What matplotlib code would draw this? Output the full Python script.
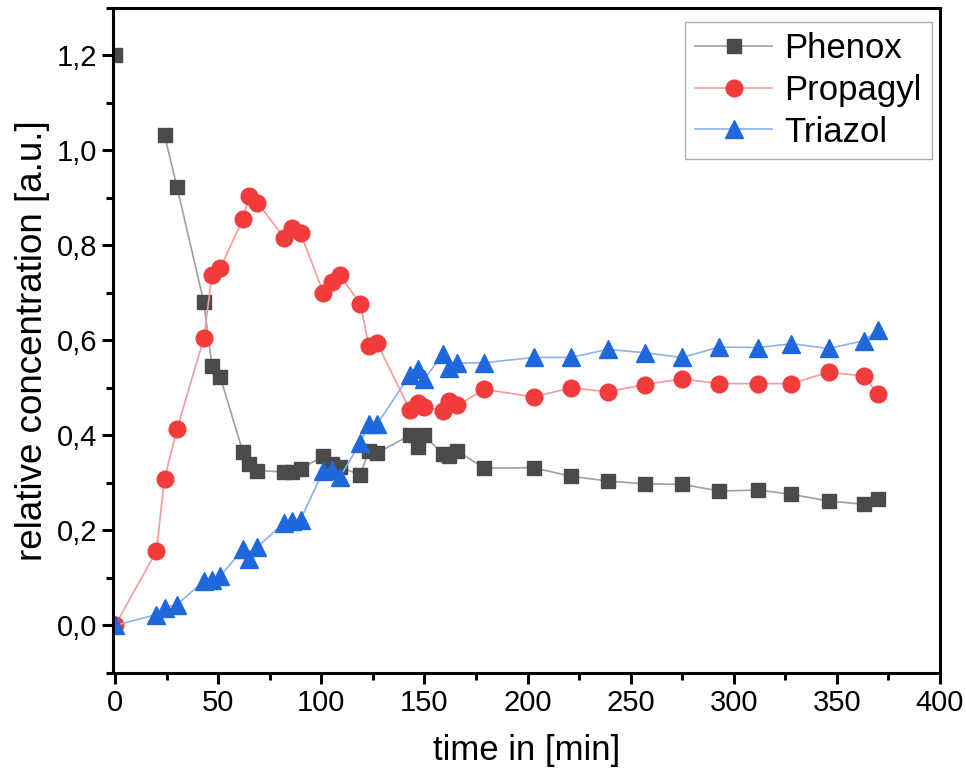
import numpy as np
import matplotlib
matplotlib.use('Agg')
import matplotlib.pyplot as plt
from matplotlib.ticker import MultipleLocator, FuncFormatter

nan = np.nan

time = [0, 20, 24, 30, 43, 47, 51, 62, 65, 69, 82, 86, 90, 101, 105, 109,
        119, 123, 127, 143, 147, 150, 159, 162, 166, 179, 203, 221, 239,
        257, 275, 293, 312, 328, 346, 363, 370]

phenox = [1.2, nan, 1.032, 0.923, 0.681, 0.546, 0.523, 0.365, 0.340, 0.326,
          0.323, 0.324, 0.330, 0.356, 0.340, 0.333, 0.317, 0.368, 0.363,
          0.400, 0.375, 0.400, 0.360, 0.357, 0.367, 0.331, 0.332, 0.314,
          0.304, 0.298, 0.297, 0.283, 0.285, 0.276, 0.262, 0.255, 0.267]

propagyl = [0.0, 0.156, 0.309, 0.413, 0.604, 0.737, 0.752, 0.855, 0.903,
            0.890, 0.816, 0.837, 0.825, 0.700, 0.723, 0.737, 0.676, 0.588,
            0.595, 0.453, 0.469, 0.460, 0.451, 0.472, 0.463, 0.497, 0.481,
            0.500, 0.492, 0.507, 0.519, 0.509, 0.509, 0.509, 0.533, 0.525,
            0.488]

triazol = [0.0, 0.023, 0.037, 0.044, 0.093, 0.095, 0.104, 0.160, 0.140,
           0.165, 0.216, 0.220, 0.223, 0.326, 0.328, 0.312, 0.385, 0.423,
           0.423, 0.528, 0.539, 0.519, 0.571, 0.542, 0.552, 0.553, 0.564,
           0.564, 0.581, 0.574, 0.564, 0.586, 0.585, 0.593, 0.583, 0.599,
           0.622]

plt.rcParams['font.family'] = ['Liberation Sans', 'DejaVu Sans']

fig = plt.figure(figsize=(9.66, 7.78), dpi=100)
ax = fig.add_axes([0.117, 0.135, 0.856, 0.855])

ax.plot(time, phenox, color='#a0a0a0', lw=1.2, marker='s', ms=10,
        mfc='#4a4a4a', mec='#4a4a4a', label='Phenox')
ax.plot(time, propagyl, color='#f59a9a', lw=1.2, marker='o', ms=12,
        mfc='#f23b3b', mec='#f23b3b', label='Propagyl')
ax.plot(time, triazol, color='#8ab2ee', lw=1.2, marker='^', ms=13,
        mfc='#1f68dc', mec='#1f68dc', label='Triazol')

ax.set_xlim(-1, 400)
ax.set_ylim(-0.1, 1.3)
ax.xaxis.set_major_locator(MultipleLocator(50))
ax.xaxis.set_minor_locator(MultipleLocator(25))
ax.yaxis.set_major_locator(MultipleLocator(0.2))
ax.yaxis.set_minor_locator(MultipleLocator(0.1))
ax.yaxis.set_major_formatter(FuncFormatter(lambda v, p: f'{v:.1f}'.replace('.', ',')))

for s in ax.spines.values():
    s.set_linewidth(2.2)
ax.tick_params(which='major', direction='out', length=8, width=2.2, labelsize=21)
ax.tick_params(which='minor', direction='out', length=5, width=2.2)

ax.set_xlabel('time in [min]', fontsize=25, labelpad=12)
ax.set_ylabel('relative concentration [a.u.]', fontsize=26.5, labelpad=5)

leg = ax.legend(loc='upper right', bbox_to_anchor=(0.990, 0.979),
                fontsize=25, frameon=True, fancybox=False,
                handlelength=2.2, borderaxespad=0, labelspacing=0.25,
                handletextpad=0.35, borderpad=0.3)
leg.get_frame().set_edgecolor('#999999')
leg.get_frame().set_linewidth(1.0)

fig.savefig('out.png', dpi=100)
